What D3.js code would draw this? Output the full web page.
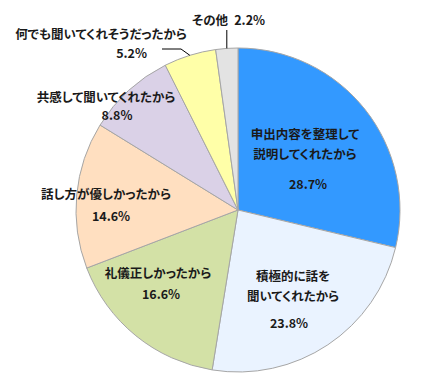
<!DOCTYPE html>
<html>
<head>
<meta charset="utf-8">
<script src="https://cdn.jsdelivr.net/npm/d3@7"></script>
<style>
  html, body { margin: 0; padding: 0; background: #fff; }
  text { font-family: "Noto Sans CJK JP", sans-serif; font-weight: bold; font-size: 12.5px; fill: #1a1a1a; font-feature-settings: "palt"; }
</style>
</head>
<body>
<script>
// Data
const categories = [
  '申出内容を整理して説明してくれたから',
  '積極的に話を聞いてくれたから',
  '礼儀正しかったから',
  '話し方が優しかったから',
  '共感して聞いてくれたから',
  '何でも聞いてくれそうだったから',
  'その他'
];
const values = [28.7, 23.8, 16.6, 14.6, 8.8, 5.2, 2.2];
const labelLines = [
  ['申出内容を整理して', '説明してくれたから'],
  ['積極的に話を', '聞いてくれたから'],
  ['礼儀正しかったから'],
  ['話し方が優しかったから'],
  ['共感して聞いてくれたから'],
  ['何でも聞いてくれそうだったから'],
  ['その他']
];
const colors = ['#3399ff', '#eaf3ff', '#d3e1a6', '#ffdfc0', '#dad1e7', '#ffffa8', '#e3e3e3'];

const width = 440, height = 375;
const cx = 238, cy = 210, radius = 162;

const svg = d3.select('body').append('svg')
  .attr('width', width)
  .attr('height', height);

const pie = d3.pie().sort(null).value(d => d);
const arcs = pie(values);
const arc = d3.arc().innerRadius(0).outerRadius(radius);

const g = svg.append('g').attr('transform', `translate(${cx},${cy})`);

g.selectAll('path')
  .data(arcs)
  .enter().append('path')
  .attr('d', arc)
  .attr('fill', (d, i) => colors[i])
  .attr('stroke', '#a6a6a6')
  .attr('stroke-width', 1);

// label layout: first line centre relative to pie centre, line offsets, gap to percent
const layout = [
  { x: 67, y: -77, lines: [0, 20], pct: 30, px: 70 },
  { x: 55, y: 65, lines: [0, 20], pct: 27, px: 51 },
  { x: -80, y: 62, lines: [0], pct: 21, px: -77 },
  { x: -132, y: -17, lines: [0], pct: 22, px: -127 },
  { x: -132, y: -114, lines: [0], pct: 18, px: -121 },
  { x: -137, y: -177, lines: [0], pct: 19, px: null }
];

layout.forEach((l, i) => {
  labelLines[i].forEach((s, j) => {
    g.append('text')
      .attr('text-anchor', 'middle')
      .attr('dominant-baseline', 'central')
      .attr('x', l.x)
      .attr('y', l.y + l.lines[j])
      .text(s);
  });
  const lastY = l.y + l.lines[labelLines[i].length - 1];
  const pctText = values[i].toFixed(1) + '%';
  g.append('text')
    .attr('text-anchor', l.px === null ? 'end' : 'middle')
    .attr('dominant-baseline', 'central')
    .attr('x', l.px === null ? -91 : l.px)
    .attr('y', lastY + l.pct)
    .text(pctText);
});

// leader line for the yellow slice
const yellowEdge = d3.arc().innerRadius(radius).outerRadius(radius).centroid(arcs[5]);
g.append('path')
  .attr('d', d3.line()([[-76, -161], [-57, -161], yellowEdge]))
  .attr('fill', 'none')
  .attr('stroke', '#000')
  .attr('stroke-width', 1);

// "その他" label with vertical leader
const greyEdge = d3.arc().innerRadius(radius).outerRadius(radius).centroid(arcs[6]);
g.append('line')
  .attr('x1', greyEdge[0]).attr('y1', greyEdge[1])
  .attr('x2', greyEdge[0]).attr('y2', -180)
  .attr('stroke', '#000')
  .attr('stroke-width', 1);
g.append('text')
  .attr('dominant-baseline', 'central')
  .attr('x', -46)
  .attr('y', -191)
  .text(labelLines[6][0] + '\u2002' + values[6].toFixed(1) + '%');
</script>
</body>
</html>
